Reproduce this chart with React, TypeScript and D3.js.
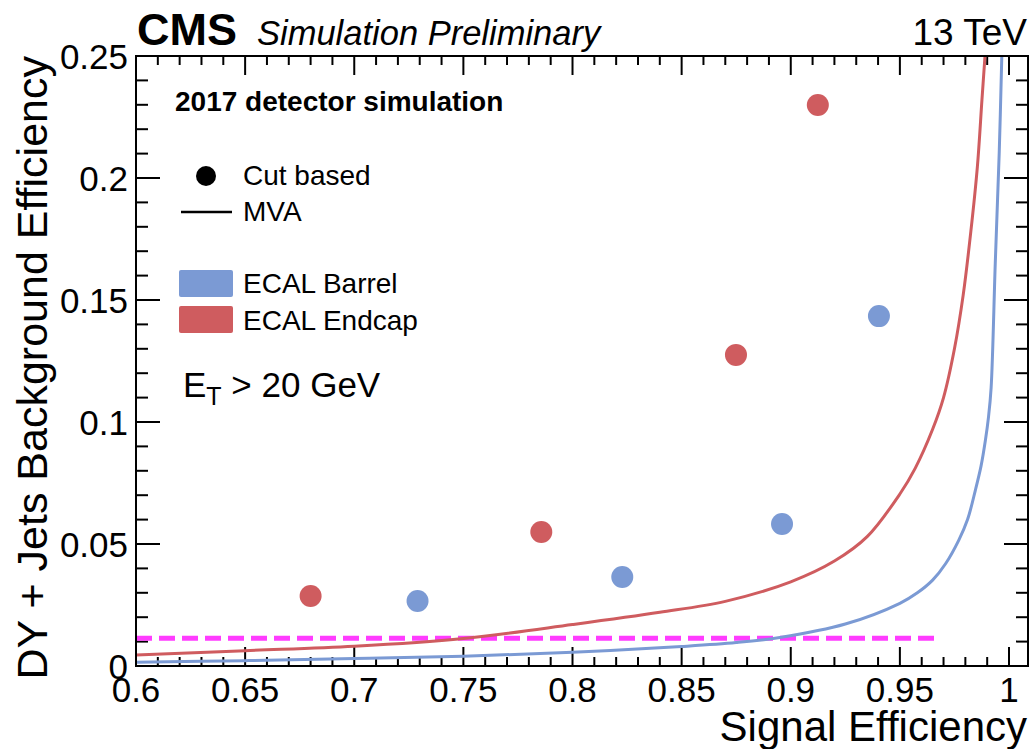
import React from "react";
import * as d3 from "d3";

// Cut-based working points (signal efficiency, background efficiency)
const barrelCutX = [0.729, 0.8228, 0.896, 0.9404];
const barrelCutY = [0.0266, 0.0365, 0.0582, 0.1434];
const endcapCutX = [0.68, 0.7857, 0.8749, 0.9124];
const endcapCutY = [0.0287, 0.0549, 0.1275, 0.2299];

// MVA ROC curves
const endcapMvaX = [0.6, 0.65, 0.7, 0.75, 0.8, 0.84, 0.87, 0.9, 0.92, 0.935, 0.95, 0.957, 0.965, 0.97, 0.975, 0.979, 0.9825, 0.9855, 0.9876, 0.989];
const endcapMvaY = [0.0045, 0.0063, 0.0081, 0.0113, 0.017, 0.022, 0.0265, 0.0345, 0.043, 0.053, 0.0705, 0.081, 0.097, 0.11, 0.13, 0.152, 0.178, 0.2046, 0.232, 0.25];
const barrelMvaX = [0.6, 0.65, 0.7, 0.75, 0.8, 0.85, 0.875, 0.895, 0.925, 0.95, 0.958, 0.965, 0.971, 0.977, 0.981, 0.9846, 0.9872, 0.9892, 0.9906, 0.9918, 0.9937, 0.9955, 0.9967];
const barrelMvaY = [0.0015, 0.0022, 0.0031, 0.004, 0.0056, 0.008, 0.0096, 0.0117, 0.0172, 0.0257, 0.03, 0.0352, 0.042, 0.0516, 0.06, 0.0721, 0.082, 0.0926, 0.102, 0.114, 0.165, 0.21, 0.25];

// Reference line
const refLineY = 0.0114;
const refLineX = [0.6, 0.968];

const xTickLabels = ["0.6", "0.65", "0.7", "0.75", "0.8", "0.85", "0.9", "0.95", "1"];
const yTickLabels = ["0", "0.05", "0.1", "0.15", "0.2", "0.25"];

const BLUE = "#7b9ad4";
const RED = "#cf5c5f";
const MAGENTA = "#ff3cff";
const FONT = "'Liberation Sans', Arial, Helvetica, sans-serif";

export default function App() {
  const W = 1032, H = 749;
  const L = 136, R = 1028, T = 56, B = 666;
  const x = d3.scaleLinear().domain([0.6, 1.0087]).range([L, R]);
  const y = d3.scaleLinear().domain([0, 0.25]).range([B, T]);

  const line = d3
    .line<[number, number]>()
    .x((d) => x(d[0]))
    .y((d) => y(d[1]))
    .curve(d3.curveCatmullRom.alpha(0.5));

  const endcapPts: [number, number][] = endcapMvaX.map((v, i) => [v, endcapMvaY[i]]);
  const barrelPts: [number, number][] = barrelMvaX.map((v, i) => [v, barrelMvaY[i]]);

  const xMinor = d3.range(60, 101).map((v) => v / 100);
  const yMinor = d3.range(0, 26).map((v) => v / 100);

  return (
    <svg
      width={W}
      height={H}
      style={{ position: "absolute", left: 0, top: 0, background: "#fff" }}
      fontFamily={FONT}
    >
      <defs>
        <clipPath id="plotclip">
          <rect x={L} y={T} width={R - L} height={B - T} />
        </clipPath>
      </defs>
      <rect x={0} y={0} width={W} height={H} fill="#fff" />

      {/* ticks */}
      <g stroke="#000" strokeWidth={2}>
        {xMinor.map((v, i) => {
          const major = Math.round(v * 100) % 5 === 0;
          const len = major ? 19 : 9;
          return (
            <g key={"xt" + i}>
              <line x1={x(v)} x2={x(v)} y1={B} y2={B - len} />
              <line x1={x(v)} x2={x(v)} y1={T} y2={T + len} />
            </g>
          );
        })}
        {yMinor.map((v, i) => {
          const major = Math.round(v * 100) % 5 === 0;
          const len = major ? 24 : 12;
          return (
            <g key={"yt" + i}>
              <line x1={L} x2={L + len} y1={y(v)} y2={y(v)} />
              <line x1={R} x2={R - len} y1={y(v)} y2={y(v)} />
            </g>
          );
        })}
      </g>

      {/* data */}
      <g clipPath="url(#plotclip)">
        <line
          x1={x(refLineX[0])}
          x2={x(refLineX[1])}
          y1={y(refLineY)}
          y2={y(refLineY)}
          stroke={MAGENTA}
          strokeWidth={5}
          strokeDasharray="16 7"
        />
        <path d={line(endcapPts) || ""} fill="none" stroke={RED} strokeWidth={3} />
        <path d={line(barrelPts) || ""} fill="none" stroke={BLUE} strokeWidth={3} />
        {barrelCutX.map((v, i) => (
          <circle key={"b" + i} cx={x(v)} cy={y(barrelCutY[i])} r={11} fill={BLUE} />
        ))}
        {endcapCutX.map((v, i) => (
          <circle key={"e" + i} cx={x(v)} cy={y(endcapCutY[i])} r={11} fill={RED} />
        ))}
      </g>

      {/* frame */}
      <rect x={L} y={T} width={R - L} height={B - T} fill="none" stroke="#000" strokeWidth={2} />

      {/* tick labels */}
      <g fontSize={35} fill="#000">
        {xTickLabels.map((t) => (
          <text key={"xl" + t} x={x(+t)} y={702} textAnchor="middle">
            {t}
          </text>
        ))}
        {yTickLabels.map((t) => (
          <text key={"yl" + t} x={128} y={y(+t) + 12.5} textAnchor="end">
            {t}
          </text>
        ))}
      </g>

      {/* axis titles */}
      <text x={1027} y={741} fontSize={42} textAnchor="end">
        Signal Efficiency
      </text>
      <text transform="translate(47,56) rotate(-90)" fontSize={43} textAnchor="end">
        DY + Jets Background Efficiency
      </text>

      {/* header */}
      <text x={137} y={45} fontSize={45} fontWeight="bold">
        CMS
      </text>
      <text x={257} y={45} fontSize={34.5} fontStyle="italic">
        Simulation Preliminary
      </text>
      <text x={1027} y={45} fontSize={37} textAnchor="end">
        13 TeV
      </text>

      {/* annotations */}
      <text x={175} y={111} fontSize={28} fontWeight="bold">
        2017 detector simulation
      </text>

      {/* legend */}
      <circle cx={206} cy={176} r={10} fill="#000" />
      <text x={243} y={185} fontSize={28}>
        Cut based
      </text>
      <line x1={181} x2={232} y1={212} y2={212} stroke="#000" strokeWidth={2.5} />
      <text x={243} y={221} fontSize={28}>
        MVA
      </text>
      <rect x={179} y={270} width={54} height={27} rx={2} fill={BLUE} />
      <text x={243} y={293} fontSize={28}>
        ECAL Barrel
      </text>
      <rect x={179} y={306} width={54} height={27} rx={2} fill={RED} />
      <text x={243} y={330} fontSize={28}>
        ECAL Endcap
      </text>

      <text x={183} y={397} fontSize={35}>
        E
        <tspan fontSize={25} dy={8}>
          T
        </tspan>
        <tspan dy={-8}> &gt; 20 GeV</tspan>
      </text>
    </svg>
  );
}
